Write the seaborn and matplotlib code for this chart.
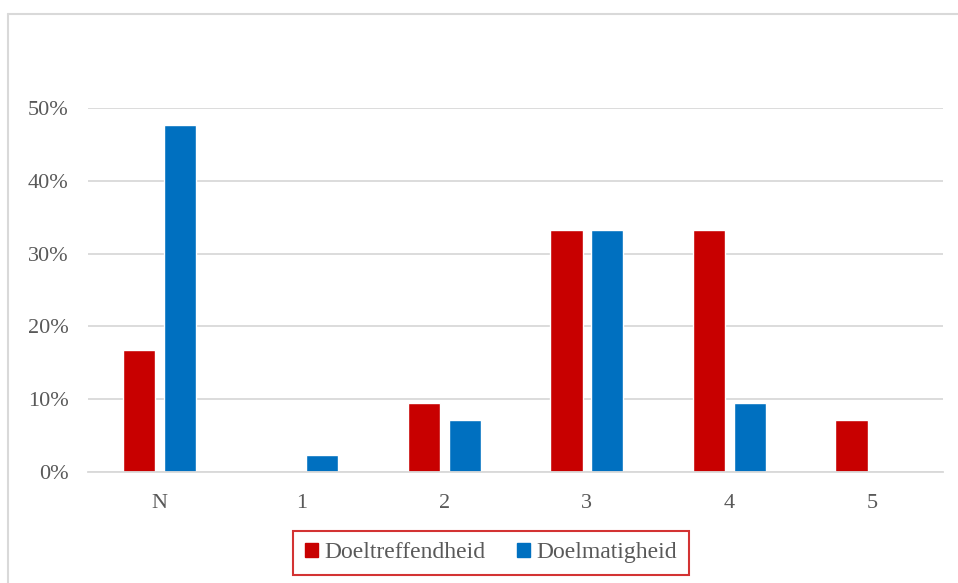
import pandas as pd
import seaborn as sns
import matplotlib.pyplot as plt
from matplotlib.lines import Line2D
from matplotlib.ticker import PercentFormatter

# values (fractions)
categories = ["N", "1", "2", "3", "4", "5"]
doeltreffendheid = [0.167, 0.0, 0.095, 0.333, 0.333, 0.071]
doelmatigheid = [0.476, 0.024, 0.071, 0.333, 0.095, 0.0]
series_names = ["Doeltreffendheid", "Doelmatigheid"]
palette = ["#C80000", "#0070C0"]

df = pd.DataFrame({
    "cat": categories * 2,
    "val": doeltreffendheid + doelmatigheid,
    "serie": [series_names[0]] * 6 + [series_names[1]] * 6,
})

sns.set_style("white")
plt.rcParams["font.family"] = ["Liberation Serif", "DejaVu Serif"]
txt = "#595959"
grid = "#D9D9D9"

fig = plt.figure(figsize=(9.58, 5.83), dpi=100)
ax = fig.add_axes([0.0919, 0.1904, 0.8925, 0.6244])

sns.barplot(data=df, x="cat", y="val", hue="serie", order=categories,
            hue_order=series_names, palette=palette, width=0.57, gap=0.21,
            saturation=1, ax=ax, legend=False)

ax.set_ylim(0, 0.5)
ax.set_xlim(-0.5, 5.5)
ax.set_yticks([0, 0.1, 0.2, 0.3, 0.4, 0.5])
ax.yaxis.set_major_formatter(PercentFormatter(1.0, decimals=0))
ax.yaxis.grid(True, color=grid, linewidth=1.3)
ax.set_axisbelow(True)
for s in ["top", "right", "left"]:
    ax.spines[s].set_visible(False)
ax.spines["bottom"].set_color(grid)
ax.spines["bottom"].set_linewidth(1.3)
ax.tick_params(axis="both", length=0, labelsize=16, colors=txt)
ax.tick_params(axis="y", pad=14)
ax.tick_params(axis="x", pad=16)
ax.set_xlabel("")
ax.set_ylabel("")

# outer chart frame (only top and left edges visible in the crop)
fig.add_artist(Line2D([8 / 958, 1.0], [1 - 14 / 583, 1 - 14 / 583],
                      transform=fig.transFigure, color=grid, linewidth=1.5))
fig.add_artist(Line2D([8 / 958, 8 / 958], [0.0, 1 - 14 / 583],
                      transform=fig.transFigure, color=grid, linewidth=1.5))

handles = [plt.Rectangle((0, 0), 1, 1, color=c) for c in palette]
leg = fig.legend(handles, series_names, loc="center", bbox_to_anchor=(0.5125, 0.0515),
                 ncol=2, frameon=True, fancybox=False, fontsize=17,
                 handlelength=0.55, handleheight=0.55, handletextpad=0.3,
                 columnspacing=1.3, borderpad=0.5, borderaxespad=0,
                 labelcolor=txt)
leg.get_frame().set_edgecolor("#C80000")
leg.get_frame().set_linewidth(1.5)

fig.savefig("out.png", dpi=100)
